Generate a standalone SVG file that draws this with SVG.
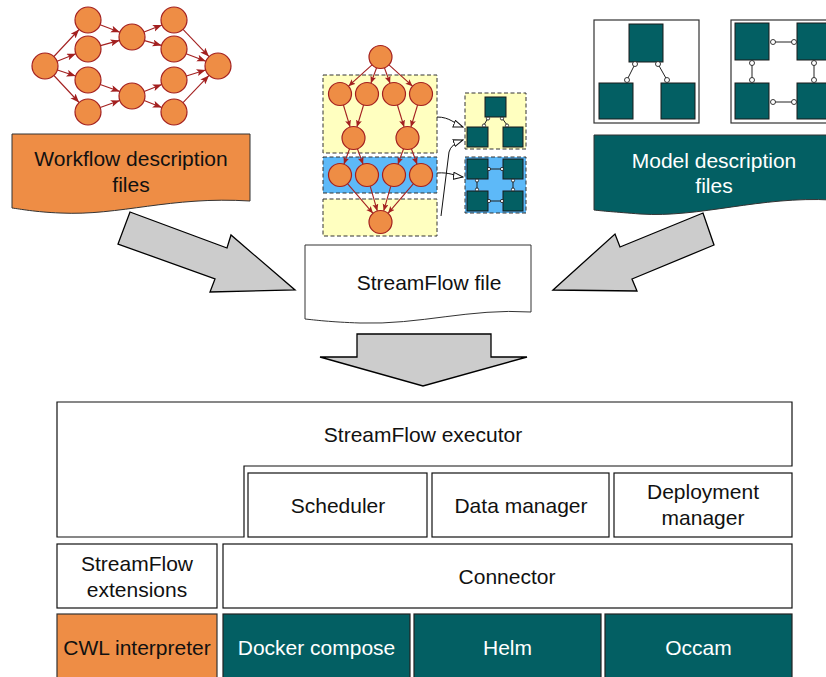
<svg xmlns="http://www.w3.org/2000/svg" width="826" height="677" viewBox="0 0 826 677">
<style>
text{font-family:"Liberation Sans",Arial,sans-serif;font-size:21px;fill:#111;text-anchor:middle}
.w{fill:#fff}
.nd{fill:#EE8D45;stroke:#A32020;stroke-width:1.2}
.e{stroke:#A32020;stroke-width:1.1;fill:none;marker-end:url(#ah)}
.e2{stroke:#A32020;stroke-width:1.1;fill:none;marker-end:url(#ah2)}
.tb{fill:#035F63;stroke:#1a1a1a;stroke-width:1}
.frame{fill:#fff;stroke:#333;stroke-width:1.2}
.lk{stroke:#222;stroke-width:1;fill:none}
.ck{fill:#fff;stroke:#222;stroke-width:0.9}
.box{fill:#fff;stroke:#111;stroke-width:1.2}
.big{fill:#CCCCCC;stroke:#000;stroke-width:1.3;stroke-linejoin:miter}
.zone{stroke:#333;stroke-width:1;stroke-dasharray:4 2.5}
.ma{stroke:#111;stroke-width:1;fill:none;marker-end:url(#oa)}
</style>
<defs>
<marker id="ah" markerUnits="userSpaceOnUse" markerWidth="10" markerHeight="8" refX="9" refY="3.5" orient="auto">
<path d="M0,0 L9,3.5 L0,7 L2,3.5 Z" fill="#A32020"/>
</marker>
<marker id="ah2" markerUnits="userSpaceOnUse" markerWidth="8" markerHeight="7" refX="7" refY="3" orient="auto">
<path d="M0,0 L7,3 L0,6 L1.5,3 Z" fill="#A32020"/>
</marker>
<marker id="oa" markerUnits="userSpaceOnUse" markerWidth="11" markerHeight="9" refX="10" refY="4" orient="auto">
<path d="M0.5,0.5 L10,4 L0.5,7.5 Z" fill="#fff" stroke="#111" stroke-width="1"/>
</marker>
</defs>

<!-- top-left workflow graph -->
<g id="workflow-graph">
<g id="wf-edges">
<line class="e" x1="53.9" y1="56.5" x2="79.1" y2="29.5"/>
<line class="e" x1="57.1" y1="61.2" x2="75.9" y2="53.8"/>
<line class="e" x1="57.4" y1="70" x2="75.6" y2="76"/>
<line class="e" x1="53.9" y1="75.5" x2="79.1" y2="102.5"/>
<line class="e" x1="100.1" y1="24.7" x2="119.9" y2="32.3"/>
<line class="e" x1="100.5" y1="45.6" x2="119.5" y2="40.4"/>
<line class="e" x1="100.2" y1="84.4" x2="119.8" y2="91.6"/>
<line class="e" x1="100.2" y1="107.6" x2="119.8" y2="100.4"/>
<line class="e" x1="144.1" y1="32.1" x2="161.9" y2="24.9"/>
<line class="e" x1="144.5" y1="40.6" x2="161.5" y2="45.4"/>
<line class="e" x1="144.2" y1="91.4" x2="161.8" y2="84.6"/>
<line class="e" x1="144.2" y1="100.6" x2="161.8" y2="107.4"/>
<line class="e" x1="183" y1="29.4" x2="209" y2="56.6"/>
<line class="e" x1="186.1" y1="53.7" x2="205.9" y2="61.3"/>
<line class="e" x1="186.4" y1="76.1" x2="205.6" y2="69.9"/>
<line class="e" x1="183" y1="102.6" x2="209" y2="75.4"/>
</g>
<circle class="nd" cx="45" cy="66" r="13"/>
<circle class="nd" cx="88" cy="20" r="13"/>
<circle class="nd" cx="88" cy="49" r="13"/>
<circle class="nd" cx="88" cy="80" r="13"/>
<circle class="nd" cx="88" cy="112" r="13"/>
<circle class="nd" cx="132" cy="37" r="13"/>
<circle class="nd" cx="132" cy="96" r="13"/>
<circle class="nd" cx="174" cy="20" r="13"/>
<circle class="nd" cx="174" cy="49" r="13"/>
<circle class="nd" cx="174" cy="80" r="13"/>
<circle class="nd" cx="174" cy="112" r="13"/>
<circle class="nd" cx="218" cy="66" r="13"/>
</g>

<!-- middle partitioned graph -->
<g id="partitioned-graph">
<rect class="zone" x="323" y="75" width="114" height="78" fill="#FFFFC0"/>
<rect class="zone" x="323" y="157" width="114" height="36" fill="#5DB9F8"/>
<rect class="zone" x="323" y="199" width="114" height="37" fill="#FFFFC0"/>
<g id="pg-edges">
<line class="e2" x1="372" y1="64.8" x2="348.5" y2="86.2"/>
<line class="e2" x1="376.6" y1="67.8" x2="370.9" y2="83.2"/>
<line class="e2" x1="384.4" y1="67.8" x2="390.1" y2="83.2"/>
<line class="e2" x1="389" y1="64.8" x2="412.5" y2="86.2"/>
<line class="e2" x1="343.4" y1="105" x2="350.1" y2="127"/>
<line class="e2" x1="363.6" y1="105" x2="356.9" y2="127"/>
<line class="e2" x1="397.4" y1="105" x2="404.1" y2="127"/>
<line class="e2" x1="417.6" y1="105" x2="410.9" y2="127"/>
<line class="e2" x1="349.6" y1="148.8" x2="343.9" y2="164.2"/>
<line class="e2" x1="357.4" y1="148.8" x2="363.1" y2="164.2"/>
<line class="e2" x1="403.6" y1="148.8" x2="397.9" y2="164.2"/>
<line class="e2" x1="411.4" y1="148.8" x2="417.1" y2="164.2"/>
<line class="e2" x1="347.5" y1="183.7" x2="373" y2="213.3"/>
<line class="e2" x1="370.2" y1="186.1" x2="377.3" y2="210.9"/>
<line class="e2" x1="390.8" y1="186.1" x2="383.7" y2="210.9"/>
<line class="e2" x1="413.5" y1="183.7" x2="388" y2="213.3"/>
</g>
<circle class="nd" cx="380.5" cy="57" r="11.5"/>
<circle class="nd" cx="340" cy="94" r="11.5"/>
<circle class="nd" cx="367" cy="94" r="11.5"/>
<circle class="nd" cx="394" cy="94" r="11.5"/>
<circle class="nd" cx="421" cy="94" r="11.5"/>
<circle class="nd" cx="353.5" cy="138" r="11.5"/>
<circle class="nd" cx="407.5" cy="138" r="11.5"/>
<circle class="nd" cx="340" cy="175" r="11.5"/>
<circle class="nd" cx="367" cy="175" r="11.5"/>
<circle class="nd" cx="394" cy="175" r="11.5"/>
<circle class="nd" cx="421" cy="175" r="11.5"/>
<circle class="nd" cx="380.5" cy="222" r="11.5"/>
</g>

<!-- mini models -->
<g id="mini-models">
<rect class="zone" x="465" y="93" width="61" height="56" fill="#FFFFC0"/>
<line class="lk" x1="488" y1="118" x2="484" y2="125"/>
<line class="lk" x1="502" y1="118" x2="507" y2="125"/>
<rect class="tb" x="485" y="97" width="21" height="20"/>
<rect class="tb" x="467" y="127" width="21" height="20"/>
<rect class="tb" x="503" y="127" width="20" height="20"/>
<circle class="ck" cx="488" cy="118.5" r="1.6"/>
<circle class="ck" cx="484" cy="125.5" r="1.6"/>
<circle class="ck" cx="502" cy="118.5" r="1.6"/>
<circle class="ck" cx="507" cy="125.5" r="1.6"/>
<rect class="zone" x="465" y="157" width="61" height="56" fill="#5DB9F8"/>
<line class="lk" x1="489" y1="169" x2="502" y2="169"/>
<line class="lk" x1="489" y1="201" x2="502" y2="201"/>
<line class="lk" x1="477" y1="180" x2="477" y2="190"/>
<line class="lk" x1="513" y1="180" x2="513" y2="190"/>
<rect class="tb" x="467" y="159" width="21" height="20"/>
<rect class="tb" x="503" y="159" width="20" height="20"/>
<rect class="tb" x="467" y="191" width="21" height="20"/>
<rect class="tb" x="503" y="191" width="20" height="20"/>
<circle class="ck" cx="489" cy="169" r="1.6"/>
<circle class="ck" cx="502" cy="169" r="1.6"/>
<circle class="ck" cx="489" cy="201" r="1.6"/>
<circle class="ck" cx="502" cy="201" r="1.6"/>
<circle class="ck" cx="477" cy="180.5" r="1.6"/>
<circle class="ck" cx="477" cy="189.5" r="1.6"/>
<circle class="ck" cx="513" cy="180.5" r="1.6"/>
<circle class="ck" cx="513" cy="189.5" r="1.6"/>
</g>

<!-- top-right models -->
<g id="model-a">
<rect class="frame" x="594" y="20" width="105" height="103"/>
<line class="lk" x1="635" y1="64" x2="627" y2="80"/>
<line class="lk" x1="658" y1="64" x2="667" y2="80"/>
<rect class="tb" x="629" y="24" width="34" height="38"/>
<rect class="tb" x="599" y="83" width="34" height="36"/>
<rect class="tb" x="661" y="83" width="34" height="36"/>
<circle class="ck" cx="635" cy="64" r="2.5"/>
<circle class="ck" cx="627" cy="80" r="2.5"/>
<circle class="ck" cx="658" cy="64" r="2.5"/>
<circle class="ck" cx="667" cy="80" r="2.5"/>
</g>
<g id="model-b">
<rect class="frame" x="731" y="20" width="105" height="103"/>
<line class="lk" x1="773" y1="42" x2="794" y2="42"/>
<line class="lk" x1="773" y1="102" x2="794" y2="102"/>
<line class="lk" x1="752" y1="63" x2="752" y2="80"/>
<line class="lk" x1="814" y1="63" x2="814" y2="80"/>
<rect class="tb" x="735" y="23" width="34" height="37"/>
<rect class="tb" x="797" y="23" width="34" height="37"/>
<rect class="tb" x="735" y="83" width="34" height="36"/>
<rect class="tb" x="797" y="83" width="34" height="36"/>
<circle class="ck" cx="773" cy="42" r="2.5"/>
<circle class="ck" cx="794" cy="42" r="2.5"/>
<circle class="ck" cx="773" cy="102" r="2.5"/>
<circle class="ck" cx="794" cy="102" r="2.5"/>
<circle class="ck" cx="752" cy="63" r="2.5"/>
<circle class="ck" cx="752" cy="80" r="2.5"/>
<circle class="ck" cx="814" cy="63" r="2.5"/>
<circle class="ck" cx="814" cy="80" r="2.5"/>
</g>

<!-- document shapes -->
<g id="workflow-files">
<path d="M12,134 H250 V201 C170,196 120,216 60,213 C35,212 20,209 12,208 Z" fill="#EE8D45" stroke="#333" stroke-width="1"/>
<text x="131" y="166">Workflow description</text>
<text x="131" y="192">files</text>
</g>
<g id="model-files">
<path d="M594,135 H832 V200 C760,196 700,218 640,214 C615,212 602,211 594,210 Z" fill="#035F63" stroke="#333" stroke-width="1"/>
<text class="w" x="714" y="168">Model description</text>
<text class="w" x="714" y="193">files</text>
</g>
<g id="streamflow-file">
<path d="M305,245 H531 V312 C470,308 420,325 360,323 C330,322 315,320 305,319 Z" fill="#fff" stroke="#333" stroke-width="1"/>
<text x="429" y="290">StreamFlow file</text>
</g>

<!-- connectors -->
<g id="connectors">
<path class="ma" d="M437,117 C450,117 455,124 463,127"/>
<path class="ma" d="M441,216 L449,152 Q451,144 463,140"/>
<path class="ma" d="M437,173 C450,172 455,176 463,177"/>
<polygon class="big" points="130,212 227,248 231,235 295,290 210,292 215,279 118,244"/>
<polygon class="big" points="553,290 615,234 620,247 703,213 714,245 632,279 637,291"/>
<polygon class="big" points="357,334 491,334 491,357 527,357 423,386 320,357 357,357"/>
</g>

<!-- stack -->
<g id="executor">
<path class="box" d="M57,402 H792 V466 H244 V537 H57 Z"/>
<text x="423" y="442">StreamFlow executor</text>
</g>
<g id="scheduler">
<rect class="box" x="248" y="473" width="179" height="64"/>
<text x="338" y="513">Scheduler</text>
</g>
<g id="data-manager">
<rect class="box" x="432" y="473" width="177" height="64"/>
<text x="521" y="513">Data manager</text>
</g>
<g id="deployment-manager">
<rect class="box" x="614" y="473" width="178" height="64"/>
<text x="703" y="499">Deployment</text>
<text x="703" y="525">manager</text>
</g>
<g id="extensions">
<rect class="box" x="57" y="544" width="160" height="64"/>
<text x="137" y="571">StreamFlow</text>
<text x="137" y="597">extensions</text>
</g>
<g id="connector">
<rect class="box" x="223" y="544" width="569" height="64"/>
<text x="507" y="584">Connector</text>
</g>
<g id="cwl">
<rect x="57" y="614" width="160" height="70" fill="#EE8D45" stroke="#333" stroke-width="1.2"/>
<text x="137" y="655">CWL interpreter</text>
</g>
<g id="docker">
<rect x="223" y="614" width="187" height="70" fill="#035F63" stroke="#222" stroke-width="1.2"/>
<text class="w" x="316.5" y="655">Docker compose</text>
</g>
<g id="helm">
<rect x="414" y="614" width="187" height="70" fill="#035F63" stroke="#222" stroke-width="1.2"/>
<text class="w" x="507.5" y="655">Helm</text>
</g>
<g id="occam">
<rect x="605" y="614" width="187" height="70" fill="#035F63" stroke="#222" stroke-width="1.2"/>
<text class="w" x="698.5" y="655">Occam</text>
</g>
</svg>
